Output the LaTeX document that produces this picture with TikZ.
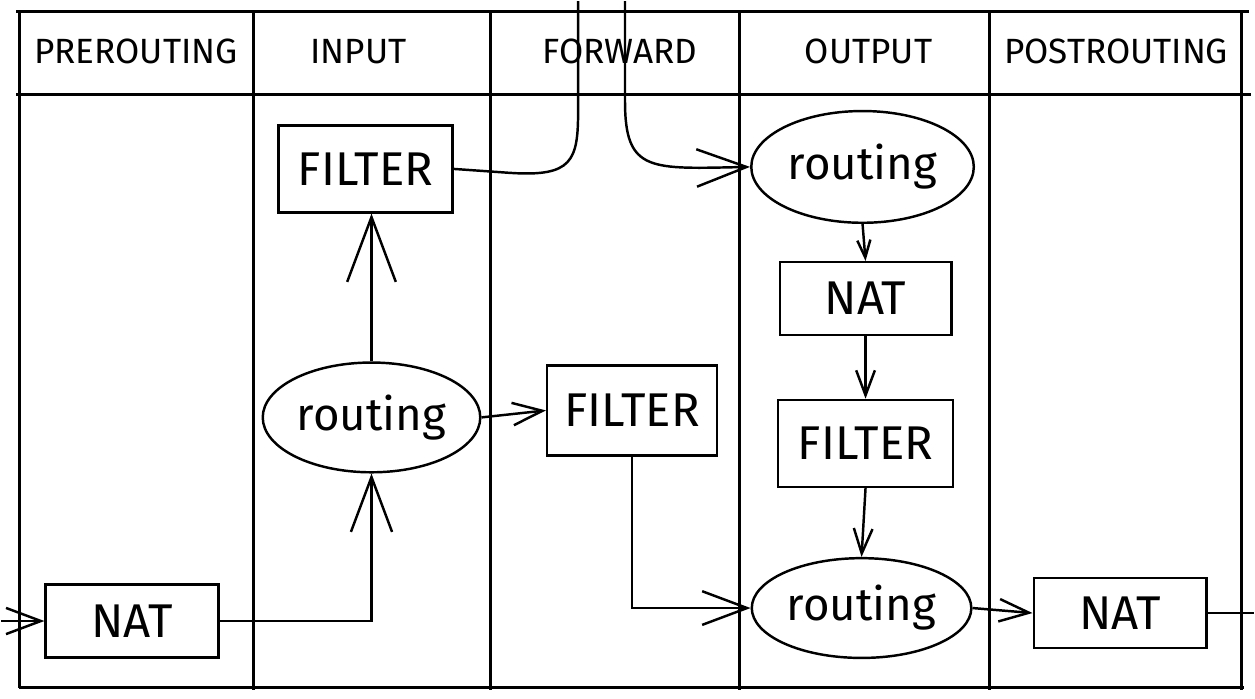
\documentclass[tikz,border=0pt]{standalone}
\usepackage{fontspec}
\setmainfont{Fira Sans}
\usetikzlibrary{arrows.meta,positioning,shapes.geometric,calc}
\tikzset{
    chainbox/.style={draw, line width=1.4pt, inner sep=2pt, font=\fontsize{27}{30}\selectfont},
    routebox/.style={ellipse, draw, line width=1.4pt, inner sep=0pt, font=\fontsize{26}{30}\selectfont},
    chainhead/.style={font=\fontsize{20}{24}\selectfont},
    gridline/.style={line width=1.7pt},
    wire/.style={line width=1.4pt},
    flow/.style={line width=1.4pt, -{Straight Barb[length=#1, width=0.75*#1, line width=1.4pt]}},
    flow/.default=6mm
}

\begin{document}
\begin{tikzpicture}[x=0.02cm, y=-0.02cm]
    \fill[white] (0,0) rectangle (1255,699);

    % table of chains
    \draw[gridline] (15,10) -- (1250,10);
    \draw[gridline] (15,93) -- (1252,93);
    \draw[gridline] (18,688) -- (1245,688);
    \draw[gridline] (18,10) -- (18,688);
    \draw[gridline] (1243,10) -- (1243,690);
    \foreach \x in {253,490,740,990}
        \draw[gridline] (\x,12) -- (\x,690);

    \foreach \x/\name in {135/PREROUTING,358/INPUT,620/FORWARD,869/OUTPUT,1117/POSTROUTING}
        \node[chainhead] (h\name) at (\x,50) {\name};

    % tables and routing decisions
    \node[chainbox, minimum width=3.46cm, minimum height=1.46cm] (natpre) at (131,621) {NAT};
    \node[routebox, minimum width=4.36cm, minimum height=2.2cm] (routein) at (371,417) {routing};
    \node[chainbox, minimum width=3.48cm, minimum height=1.74cm] (filterin) at (365,168) {FILTER};
    \node[chainbox, minimum width=3.4cm, minimum height=1.8cm] (filterfwd) at (632,410) {FILTER};
    \node[routebox, minimum width=4.46cm, minimum height=2.24cm] (routeout) at (863,166) {routing};
    \node[chainbox, minimum width=3.44cm, minimum height=1.46cm] (natout) at (866,298) {NAT};
    \node[chainbox, minimum width=3.5cm, minimum height=1.74cm] (filterout) at (866,443) {FILTER};
    \node[routebox, minimum width=4.4cm, minimum height=2.0cm] (routepost) at (862,608) {routing};
    \node[chainbox, minimum width=3.46cm, minimum height=1.4cm] (natpost) at (1121,613) {NAT};

    \coordinate (inlet) at (0,621);
    \coordinate (outlet) at (1255,613);
    \coordinate (toproc) at (578,0);
    \coordinate (fromproc) at (625,0);

    % packet paths
    \draw[flow=7mm] (inlet) -- (natpre.west);
    \draw[flow=11mm] (natpre.east) -| (routein.south);
    \draw[flow=13mm] (routein.north) -- (routein.north |- filterin.south);
    \draw[wire] (filterin.east) -- (510,172) .. controls (572,176) and (578,160) .. (578,110) -- (toproc);
    \draw[flow=10mm] (fromproc) -- (625,100) .. controls (625,172) and (650,168) .. (routeout.west);
    \draw[flow=6mm] (routein.east) -- (filterfwd.west);
    \draw[flow=9mm] (filterfwd.south) |- (routepost.west);
    \draw[flow=3.5mm] (routeout.south) -- (natout.north);
    \draw[flow=5mm] (natout.south) -- (filterout.north);
    \draw[flow=5mm] (filterout.south) -- (routepost.north);
    \draw[flow=6mm] (routepost.east) -- (natpost.west);
    \draw[wire] (natpost.east) -- (outlet);
\end{tikzpicture}
\end{document}
